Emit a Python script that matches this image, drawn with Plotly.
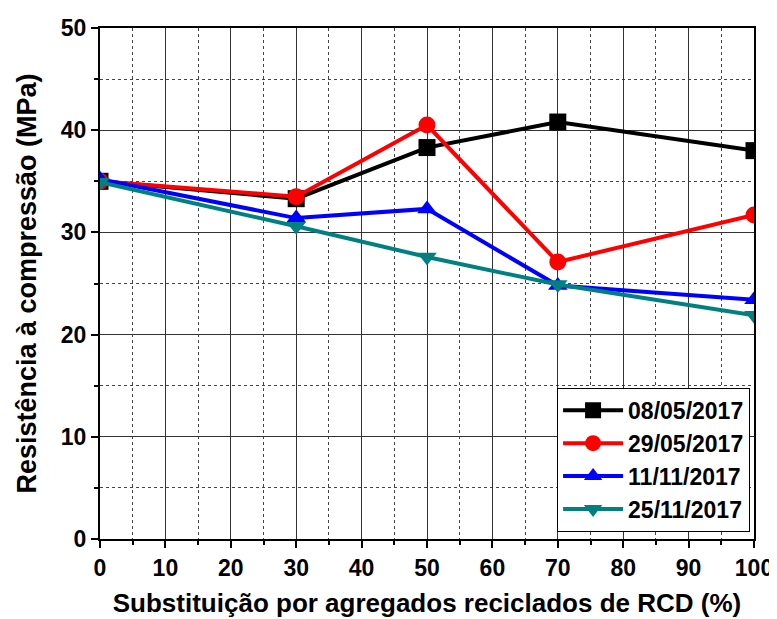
import plotly.graph_objects as go

x_vals = [0, 30, 50, 70, 100]
series_names = ["08/05/2017", "29/05/2017", "11/11/2017", "25/11/2017"]
s_0805 = [35.0, 33.3, 38.3, 40.8, 38.0]
s_2905 = [35.0, 33.5, 40.5, 27.1, 31.7]
s_1111 = [35.2, 31.4, 32.3, 24.8, 23.4]
s_2511 = [34.9, 30.6, 27.6, 24.9, 21.9]

series = [s_0805, s_2905, s_1111, s_2511]
colors = ["#000000", "#FF0000", "#0000FF", "#008080"]
symbols = ["square", "circle", "triangle-up", "triangle-down"]

FONT = "Liberation Sans, Arial, sans-serif"

fig = go.Figure()
for name, ys, c, s in zip(series_names, series, colors, symbols):
    fig.add_trace(go.Scatter(
        x=x_vals, y=ys, name=name, mode="lines+markers",
        line=dict(color=c, width=4),
        marker=dict(symbol=s, size=17, color=c),
    ))

axis_common = dict(
    showline=True, linecolor="black", linewidth=2, mirror=True,
    ticks="outside", ticklen=7, tickwidth=2, tickcolor="black",
    showgrid=True, gridcolor="#333333", gridwidth=1,
    zeroline=False, automargin=False,
    tickfont=dict(family=FONT, size=23, color="black", weight="bold"),
    minor=dict(ticks="outside", ticklen=4, tickwidth=1.5, tickcolor="black",
               showgrid=True, gridcolor="#444444", gridwidth=1, griddash="dot"),
)

fig.update_xaxes(
    range=[0, 100], dtick=10, tick0=0, **axis_common,
    title=dict(text="Substituição por agregados reciclados de RCD (%)",
               font=dict(family=FONT, size=26, color="black", weight="bold"),
               standoff=14),
)
fig.update_xaxes(minor_dtick=5)
fig.update_yaxes(
    range=[0, 50], dtick=10, tick0=0, **axis_common,
    title=dict(text="Resistência à compressão (MPa)",
               font=dict(family=FONT, size=27, color="black", weight="bold"),
               standoff=16),
)
fig.update_yaxes(minor_dtick=5)

fig.update_layout(
    width=769, height=611,
    margin=dict(l=92, r=23, t=20, b=80, autoexpand=False),
    plot_bgcolor="white", paper_bgcolor="white",
    legend=dict(
        x=0.994, y=0.014, xanchor="right", yanchor="bottom",
        bgcolor="white", bordercolor="black", borderwidth=1,
        font=dict(family=FONT, size=23, color="black", weight="bold"),
        itemwidth=60, tracegroupgap=0,
    ),
    showlegend=True,
)

fig.write_html("out.html")
